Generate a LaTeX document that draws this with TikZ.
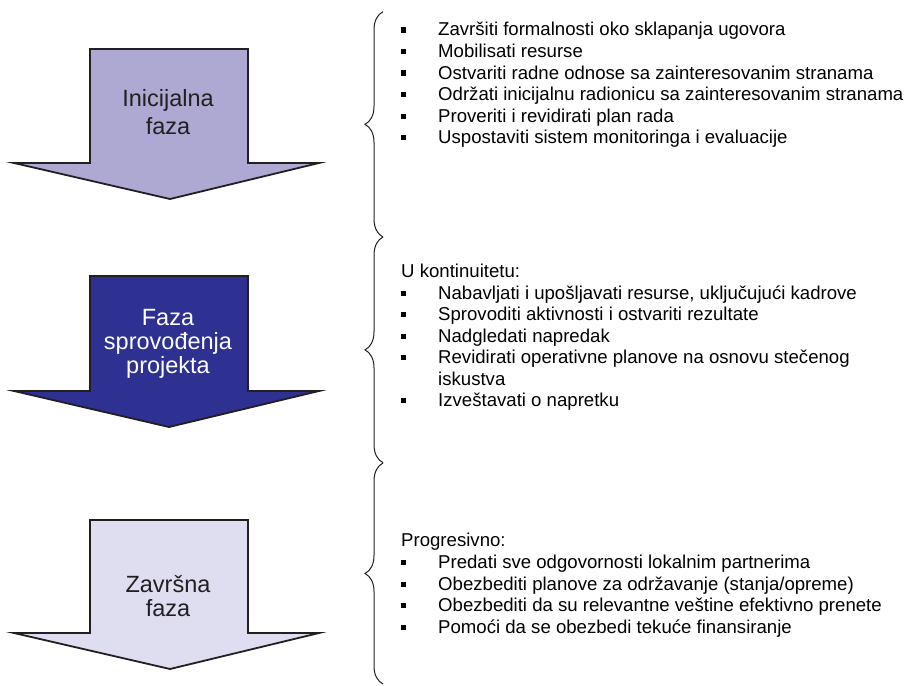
\documentclass[tikz,border=0pt]{standalone}
\usepackage{fontspec}
\setmainfont{Liberation Sans}
\usetikzlibrary{decorations.pathreplacing}
\definecolor{ink}{HTML}{231F20}
\definecolor{phaseA}{HTML}{ADA9D2}
\definecolor{phaseB}{HTML}{2E3192}
\definecolor{phaseC}{HTML}{DFDEF0}
\tikzset{
  phase/.style={draw=ink, line width=1.8pt, line join=miter},
  item/.style={anchor=base west, inner sep=0pt, font=\fontsize{18.6}{21.5}\selectfont, text=black},
  plabel/.style={anchor=base, inner sep=0pt, font=\fontsize{23.5}{28}\selectfont, text=ink},
  bracket/.style={decorate, decoration={brace, amplitude=18pt}, draw=ink, line width=1pt},
}
\newcommand\bulletbox{\makebox[37pt][l]{\raisebox{3.3pt}{\rule{5.2pt}{5.2pt}}}}
\begin{document}
\begin{tikzpicture}[x=1pt,y=-1pt]
\useasboundingbox (0,0) rectangle (909,685);
\fill[white] (0,0) rectangle (909,685);

% arrows
\draw[phase, fill=phaseA] (90,49) -- (248,49) -- (248,163) -- (319,163) -- (170,199) -- (14,163) -- (90,163) -- cycle;
\draw[phase, fill=phaseB] (90,276) -- (248,276) -- (248,391) -- (319,391) -- (169,427) -- (14,391) -- (90,391) -- cycle;
\draw[phase, fill=phaseC] (90,520) -- (248,520) -- (248,633) -- (319,633) -- (170,669) -- (14,633) -- (90,633) -- cycle;

% arrow labels
\node[plabel] (a1l1) at (168,106) {Inicijalna};
\node[plabel] (a1l2) at (168,134) {faza};
\node[plabel, text=white] (a2l1) at (168,325) {Faza};
\node[plabel, text=white] (a2l2) at (168,349) {sprovođenja};
\node[plabel, text=white] (a2l3) at (168,373) {projekta};
\node[plabel] (a3l1) at (168,592) {Završna};
\node[plabel] (a3l2) at (168,616) {faza};

% braces
\coordinate (b1t) at (383,11.7);
\coordinate (b1b) at (383,237);
\coordinate (b2t) at (383,237);
\coordinate (b2b) at (383,462.7);
\coordinate (b3t) at (383,463);
\coordinate (b3b) at (383,684);
\draw[bracket] (b1b) -- (b1t);
\draw[bracket] (b2b) -- (b2t);
\draw[bracket] (b3b) -- (b3t);

% section 1
\node[item] (s1a) at (401,36)    {\bulletbox Završiti formalnosti oko sklapanja ugovora};
\node[item] (s1b) at (401,57.5)  {\bulletbox Mobilisati resurse};
\node[item] (s1c) at (401,79)    {\bulletbox Ostvariti radne odnose sa zainteresovanim stranama};
\node[item] (s1d) at (401,100.5) {\bulletbox Održati inicijalnu radionicu sa zainteresovanim stranama};
\node[item] (s1e) at (401,122)   {\bulletbox Proveriti i revidirati plan rada};
\node[item] (s1f) at (401,143.5) {\bulletbox Uspostaviti sistem monitoringa i evaluacije};

% section 2
\node[item] (s2h) at (401,277.5) {U kontinuitetu:};
\node[item] (s2a) at (401,299)   {\bulletbox Nabavljati i upošljavati resurse, uključujući kadrove};
\node[item] (s2b) at (401,320.5) {\bulletbox Sprovoditi aktivnosti i ostvariti rezultate};
\node[item] (s2c) at (401,342)   {\bulletbox Nadgledati napredak};
\node[item] (s2d) at (401,363.5) {\bulletbox Revidirati operativne planove na osnovu stečenog};
\node[item] (s2e) at (438,385)   {iskustva};
\node[item] (s2f) at (401,406.5) {\bulletbox Izveštavati o napretku};

% section 3
\node[item] (s3h) at (401,546.7) {Progresivno:};
\node[item] (s3a) at (401,568.3) {\bulletbox Predati sve odgovornosti lokalnim partnerima};
\node[item] (s3b) at (401,590)   {\bulletbox Obezbediti planove za održavanje (stanja/opreme)};
\node[item] (s3c) at (401,611.5) {\bulletbox Obezbediti da su relevantne veštine efektivno prenete};
\node[item] (s3d) at (401,633)   {\bulletbox Pomoći da se obezbedi tekuće finansiranje};
\end{tikzpicture}
\end{document}
